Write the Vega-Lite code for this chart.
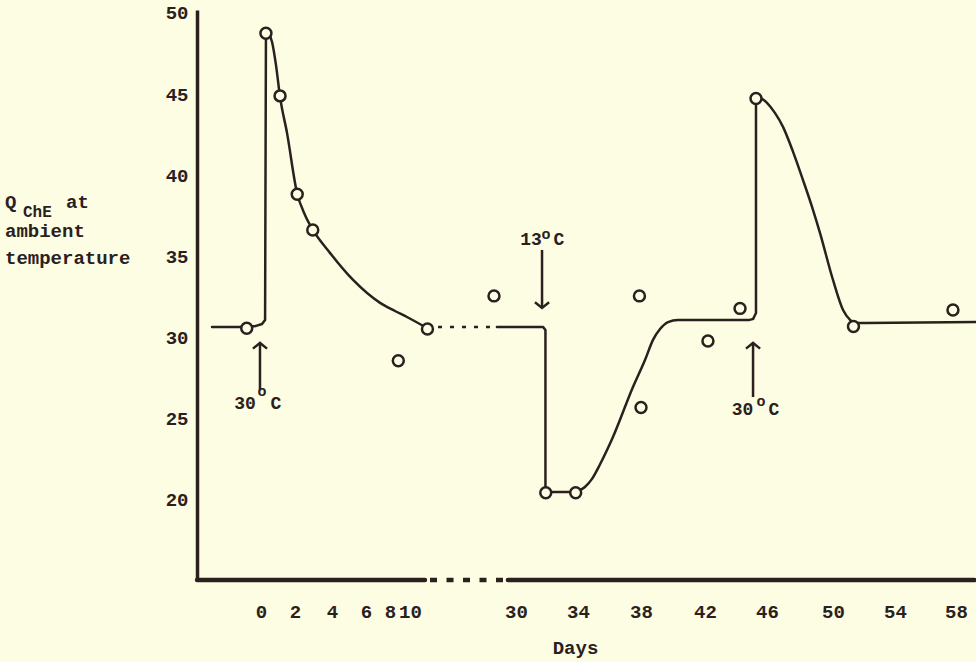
{
  "$schema": "https://vega.github.io/schema/vega-lite/v6.json",
  "width": 779,
  "height": 570,
  "autosize": "none",
  "padding": {"left": 197, "top": 10, "right": 0, "bottom": 82},
  "background": "#fdfde3",
  "config": {
    "view": {"stroke": null},
    "font": "Liberation Mono",
    "text": {"font": "Liberation Mono", "fontWeight": "bold", "color": "#2a211e"}
  },
  "datasets": {
    "points": [
      {"day": -0.84, "q": 30.58}, {"day": 0.29, "q": 48.75}, {"day": 1.12, "q": 44.89},
      {"day": 2.12, "q": 38.83}, {"day": 2.96, "q": 36.63}, {"day": 8.83, "q": 28.58},
      {"day": 10.97, "q": 30.53}, {"day": 28.58, "q": 32.57}, {"day": 31.92, "q": 20.45},
      {"day": 33.85, "q": 20.45}, {"day": 37.9, "q": 32.57}, {"day": 38.0, "q": 25.69},
      {"day": 42.19, "q": 29.79}, {"day": 44.26, "q": 31.8}, {"day": 45.29, "q": 44.73},
      {"day": 51.32, "q": 30.69}, {"day": 57.8, "q": 31.7}
    ],
    "straight": [
      {"seg": "A1", "day": -2.88, "q": 30.66}, {"seg": "A1", "day": -0.88, "q": 30.66},
      {"seg": "A1", "day": -0.29, "q": 30.72}, {"seg": "A1", "day": 0.06, "q": 30.84},
      {"seg": "A1", "day": 0.24, "q": 31.09}, {"seg": "A1", "day": 0.29, "q": 48.46},
      {"seg": "A1", "day": 0.41, "q": 48.77},
      {"seg": "B1", "day": 28.77, "q": 30.66}, {"seg": "B1", "day": 31.74, "q": 30.66},
      {"seg": "B1", "day": 31.9, "q": 30.47}, {"seg": "B1", "day": 31.9, "q": 20.49},
      {"seg": "B1", "day": 33.87, "q": 20.49},
      {"seg": "B3", "day": 45.1, "q": 31.15}, {"seg": "B3", "day": 45.29, "q": 31.52},
      {"seg": "B3", "day": 45.29, "q": 44.64}, {"seg": "B3", "day": 45.48, "q": 44.83}
    ],
    "smooth": [
      {"seg": "A2", "day": 0.41, "q": 48.77}, {"seg": "A2", "day": 0.65, "q": 48.21},
      {"seg": "A2", "day": 0.88, "q": 46.8}, {"seg": "A2", "day": 1.12, "q": 44.83},
      {"seg": "A2", "day": 1.53, "q": 42.61}, {"seg": "A2", "day": 2.11, "q": 38.91},
      {"seg": "A2", "day": 2.54, "q": 37.56}, {"seg": "A2", "day": 2.97, "q": 36.63},
      {"seg": "A2", "day": 3.89, "q": 35.22}, {"seg": "A2", "day": 5.24, "q": 33.55},
      {"seg": "A2", "day": 7.17, "q": 32.14}, {"seg": "A2", "day": 8.5, "q": 31.64},
      {"seg": "A2", "day": 9.7, "q": 31.27}, {"seg": "A2", "day": 10.94, "q": 30.59},
      {"seg": "B2", "day": 33.87, "q": 20.49}, {"seg": "B2", "day": 34.44, "q": 20.8},
      {"seg": "B2", "day": 34.89, "q": 21.3}, {"seg": "B2", "day": 35.4, "q": 22.2},
      {"seg": "B2", "day": 36.22, "q": 23.88}, {"seg": "B2", "day": 37.49, "q": 26.96},
      {"seg": "B2", "day": 38.25, "q": 28.62}, {"seg": "B2", "day": 38.75, "q": 29.86},
      {"seg": "B2", "day": 39.19, "q": 30.53}, {"seg": "B2", "day": 39.69, "q": 30.96},
      {"seg": "B2", "day": 40.31, "q": 31.09}, {"seg": "B2", "day": 44.84, "q": 31.09},
      {"seg": "B2", "day": 45.1, "q": 31.15},
      {"seg": "B4", "day": 45.48, "q": 44.83},
      {"seg": "B4", "day": 46.0, "q": 44.46}, {"seg": "B4", "day": 46.48, "q": 43.84},
      {"seg": "B4", "day": 46.97, "q": 42.98}, {"seg": "B4", "day": 47.58, "q": 41.44},
      {"seg": "B4", "day": 48.18, "q": 39.71}, {"seg": "B4", "day": 48.73, "q": 38.05},
      {"seg": "B4", "day": 49.21, "q": 36.45}, {"seg": "B4", "day": 50.0, "q": 33.55},
      {"seg": "B4", "day": 50.65, "q": 31.7}, {"seg": "B4", "day": 51.1, "q": 31.09},
      {"seg": "B4", "day": 51.48, "q": 30.9}, {"seg": "B4", "day": 59.31, "q": 30.96}
    ],
    "dotted": [{"day": 13.98, "q": 30.66}, {"day": 28.32, "q": 30.66}],
    "axisSolid": [{"day": -3.76, "day2": 10.83, "q": 15.07}, {"day": 29.48, "day2": 59.2, "q": 15.07}],
    "axisDotted": [{"day": 11.6, "day2": 29.16, "q": 15.07}],
    "arrows": [
      {"day": -0.06, "q": 29.67, "q2": 26.75},
      {"day": 45.1, "q": 29.67, "q2": 26.34},
      {"day": 31.68, "q": 35.4, "q2": 31.83}
    ],
    "headsUp": [{"day": -0.06, "q": 29.67}, {"day": 45.1, "q": 29.67}],
    "headsDown": [{"day": 31.68, "q": 31.83}],
    "labels": [
      {"day": -0.94, "q": 25.91, "t": "30"}, {"day": 0.88, "q": 25.91, "t": "C"},
      {"day": 44.42, "q": 25.54, "t": "30"}, {"day": 46.42, "q": 25.54, "t": "C"},
      {"day": 30.97, "q": 36.02, "t": "13"}, {"day": 32.77, "q": 36.02, "t": "C"}
    ],
    "degrees": [
      {"day": 0.06, "q": 26.71, "t": "o"},
      {"day": 45.61, "q": 26.1, "t": "o"},
      {"day": 31.94, "q": 36.39, "t": "o"}
    ],
    "ytitle": [
      {"day": -15.06, "q": 37.99, "t": "Q"},
      {"day": -11.47, "q": 37.99, "t": "at"},
      {"day": -15.06, "q": 36.2, "t": "ambient"},
      {"day": -15.06, "q": 34.54, "t": "temperature"}
    ],
    "ysub": [{"day": -14.0, "q": 37.43, "t": "ChE"}]
  },
  "encoding": {
    "x": {
      "field": "day",
      "type": "quantitative",
      "scale": {
        "domain": [-3, 0, 2, 4, 6, 8, 10, 11, 28, 30, 34, 38, 42, 46, 50, 54, 58],
        "range": [13, 64, 98, 135, 169, 193, 213, 231, 288, 319, 381, 444, 508, 570, 636, 698, 759],
        "nice": false,
        "zero": false
      },
      "axis": {
        "values": [0, 2, 4, 6, 8, 10, 30, 34, 38, 42, 46, 50, 54, 58],
        "domain": false,
        "ticks": false,
        "tickSize": 0,
        "grid": false,
        "labelFont": "Liberation Mono",
        "labelFontWeight": "bold",
        "labelFontSize": 19,
        "labelColor": "#2a211e",
        "labelBaseline": "alphabetic",
        "labelPadding": 37,
        "labelOverlap": false,
        "labelFlush": false,
        "labelBound": false,
        "title": "Days",
        "titleFont": "Liberation Mono",
        "titleFontWeight": "bold",
        "titleFontSize": 19,
        "titleColor": "#2a211e",
        "titleX": 378,
        "titleY": 73,
        "titleBaseline": "alphabetic"
      }
    },
    "y": {
      "field": "q",
      "type": "quantitative",
      "scale": {"domain": [15.07, 50.18], "nice": false, "zero": false},
      "axis": {
        "values": [20, 25, 30, 35, 40, 45, 50],
        "ticks": false,
        "tickSize": 0,
        "grid": false,
        "domainColor": "#2a211e",
        "domainWidth": 3.5,
        "labelFont": "Liberation Mono",
        "labelFontWeight": "bold",
        "labelFontSize": 19,
        "labelColor": "#2a211e",
        "labelPadding": 9,
        "labelOverlap": false,
        "labelFlush": false,
        "title": null
      }
    }
  },
  "layer": [
    {
      "data": {"name": "axisSolid"},
      "mark": {"type": "rule", "color": "#2a211e", "strokeWidth": 4.5, "strokeCap": "round"},
      "encoding": {"x2": {"field": "day2"}}
    },
    {
      "data": {"name": "axisDotted"},
      "mark": {"type": "rule", "color": "#2a211e", "strokeWidth": 4.5, "strokeDash": [7, 9.5]},
      "encoding": {"x2": {"field": "day2"}}
    },
    {
      "data": {"name": "straight"},
      "mark": {"type": "line", "color": "#2a211e", "strokeWidth": 2.5, "strokeJoin": "round", "strokeCap": "round"},
      "encoding": {"detail": {"field": "seg"}, "order": {"value": null}}
    },
    {
      "data": {"name": "smooth"},
      "mark": {"type": "line", "interpolate": "monotone", "color": "#2a211e", "strokeWidth": 2.5, "strokeJoin": "round", "strokeCap": "round"},
      "encoding": {"detail": {"field": "seg"}, "order": {"value": null}}
    },
    {
      "data": {"name": "dotted"},
      "mark": {"type": "line", "color": "#2a211e", "strokeWidth": 2.5, "strokeDash": [4, 8]},
      "encoding": {"order": {"value": null}}
    },
    {
      "data": {"name": "arrows"},
      "mark": {"type": "rule", "color": "#2a211e", "strokeWidth": 2.5},
      "encoding": {"y2": {"field": "q2"}}
    },
    {
      "data": {"name": "headsUp"},
      "mark": {"type": "point", "shape": "M -1 0.8 L 0 0 L 1 0.8", "filled": false, "size": 200, "strokeWidth": 2.5, "color": "#2a211e", "opacity": 1}
    },
    {
      "data": {"name": "headsDown"},
      "mark": {"type": "point", "shape": "M -1 -0.8 L 0 0 L 1 -0.8", "filled": false, "size": 200, "strokeWidth": 2.5, "color": "#2a211e", "opacity": 1}
    },
    {
      "data": {"name": "points"},
      "mark": {"type": "point", "shape": "circle", "size": 120, "filled": true, "fill": "#fdfde3", "stroke": "#2a211e", "strokeWidth": 2.5, "opacity": 1, "fillOpacity": 1}
    },
    {
      "data": {"name": "labels"},
      "mark": {"type": "text", "fontSize": 18, "align": "center", "baseline": "middle"},
      "encoding": {"text": {"field": "t"}}
    },
    {
      "data": {"name": "degrees"},
      "mark": {"type": "text", "fontSize": 15, "align": "center", "baseline": "middle"},
      "encoding": {"text": {"field": "t"}}
    },
    {
      "data": {"name": "ytitle"},
      "mark": {"type": "text", "fontSize": 19, "align": "left", "baseline": "alphabetic"},
      "encoding": {"text": {"field": "t"}}
    },
    {
      "data": {"name": "ysub"},
      "mark": {"type": "text", "fontSize": 16, "align": "left", "baseline": "alphabetic"},
      "encoding": {"text": {"field": "t"}}
    }
  ]
}
